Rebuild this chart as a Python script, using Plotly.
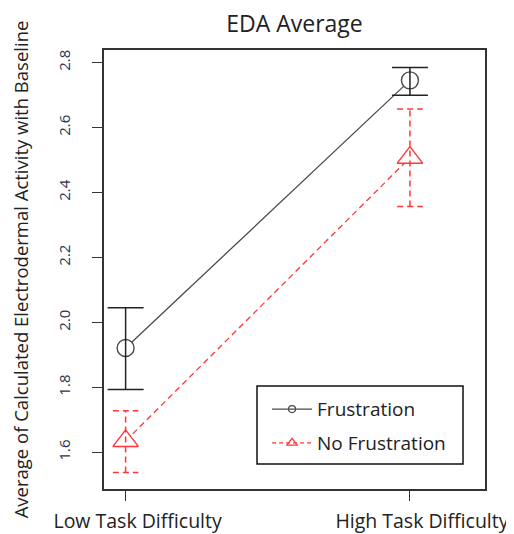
import plotly.graph_objects as go

# ---- data ----
categories = ["Low Task Difficulty", "High Task Difficulty"]
x_pos = [1, 2]
series_names = ["Frustration", "No Frustration"]
frust_mean = [1.921, 2.745]
frust_lo = [1.793, 2.699]
frust_hi = [2.045, 2.785]
nofrust_mean = [1.635, 2.507]
nofrust_lo = [1.538, 2.357]
nofrust_hi = [1.728, 2.657]
y_ticks = [1.6, 1.8, 2.0, 2.2, 2.4, 2.6, 2.8]

BLACK_LINE = "#4a4a4a"
BLACK = "#222222"
RED = "rgb(255,55,55)"
FONT = "Open Sans"

fig = go.Figure()

# connecting lines
fig.add_trace(go.Scatter(x=x_pos, y=frust_mean, mode="lines",
                         line=dict(color=BLACK_LINE, width=1.3), showlegend=False, hoverinfo="skip"))
fig.add_trace(go.Scatter(x=x_pos, y=nofrust_mean, mode="lines",
                         line=dict(color=RED, width=1.3, dash="6px,4px"), showlegend=False, hoverinfo="skip"))

# markers (white filled to create gaps)
fig.add_trace(go.Scatter(x=x_pos, y=frust_mean, mode="markers",
                         marker=dict(symbol="circle", size=17, color="white",
                                     line=dict(color=BLACK_LINE, width=1.4)),
                         showlegend=False))
fig.add_trace(go.Scatter(x=x_pos, y=nofrust_mean, mode="markers",
                         marker=dict(symbol="triangle-up", size=22, color="white",
                                     line=dict(color=RED, width=1.4)),
                         showlegend=False))

# error bars: Frustration (solid)
fig.add_trace(go.Scatter(
    x=x_pos, y=frust_mean, mode="markers",
    marker=dict(color="rgba(0,0,0,0)", size=1),
    error_y=dict(type="data", symmetric=False,
                 array=[h - m for h, m in zip(frust_hi, frust_mean)],
                 arrayminus=[m - l for m, l in zip(frust_mean, frust_lo)],
                 color=BLACK, thickness=1.5, width=18),
    showlegend=False, hoverinfo="skip"))

# error bars: No Frustration (dashed)
cap = 0.045
ex, ey = [], []
for xv, lo, hi in zip(x_pos, nofrust_lo, nofrust_hi):
    ex += [xv, xv, None, xv - cap, xv + cap, None, xv - cap, xv + cap, None]
    ey += [lo, hi, None, hi, hi, None, lo, lo, None]
fig.add_trace(go.Scatter(x=ex, y=ey, mode="lines",
                         line=dict(color=RED, width=1.5, dash="6px,4px"),
                         showlegend=False, hoverinfo="skip"))

# legend entries
fig.add_trace(go.Scatter(x=[None], y=[None], mode="lines+markers", name=series_names[0],
                         line=dict(color=BLACK_LINE, width=1.3),
                         marker=dict(symbol="circle-open", size=7, color=BLACK_LINE, line=dict(width=1.2)),
                         legendgroup="a"))
fig.add_trace(go.Scatter(x=[None], y=[None], mode="lines+markers", name=series_names[1],
                         line=dict(color=RED, width=1.3, dash="4px,3px"),
                         marker=dict(symbol="triangle-up-open", size=9, color=RED, line=dict(width=1.2)),
                         legendgroup="b"))

# legend frame
fig.add_shape(type="rect", xref="paper", yref="paper",
              x0=0.4016, x1=0.9423, y0=0.0569, y1=0.2346,
              line=dict(color="#111111", width=1.5), fillcolor="white", layer="below")

# page body has an 8px default margin, so the figure is 8px smaller than the window
fig.update_layout(
    width=506, height=526,
    margin=dict(l=96, r=29, t=42, b=45, autoexpand=False),
    paper_bgcolor="white", plot_bgcolor="white",
    font=dict(family=FONT, color="#222222"),
    title=dict(text="EDA Average", x=0.5, xref="paper", xanchor="center", y=0.985, yanchor="top",
               yref="container", font=dict(size=23, family=FONT, color="#222222")),
    showlegend=True,
    legend=dict(x=0.428, y=0.225, xanchor="left", yanchor="top",
                bgcolor="rgba(0,0,0,0)", borderwidth=0,
                font=dict(size=19, family=FONT, color="#222222"),
                tracegroupgap=6, itemwidth=40),
    xaxis=dict(range=[0.924, 2.264], tickvals=x_pos, ticktext=categories, automargin=False,
               showgrid=False, zeroline=False, showline=True, linecolor="#333333", linewidth=1.5,
               mirror=True, ticks="outside", ticklen=10, tickcolor="#333333", tickwidth=1.3,
               tickfont=dict(size=19.5, family=FONT, color="#222222"),
               ticklabelshift=12, ticklabelstandoff=4, ticklabeloverflow="allow"),
    yaxis=dict(range=[1.487, 2.8385], tickvals=y_ticks, ticktext=[f"{v:.1f}" for v in y_ticks],
               automargin=False,
               showgrid=False, zeroline=False, showline=True, linecolor="#333333", linewidth=1.5,
               mirror=True, ticks="outside", ticklen=10, tickcolor="#333333", tickwidth=1.3,
               tickangle=-90, tickfont=dict(size=15, family=FONT, color="#2b3550"),
               ticklabelstandoff=16, ticklabeloverflow="allow",
               title=dict(text="Average of Calculated Electrodermal Activity with Baseline",
                          font=dict(size=18.5, family=FONT, color="#222222"), standoff=21)),
)

fig.write_html("out.html")
